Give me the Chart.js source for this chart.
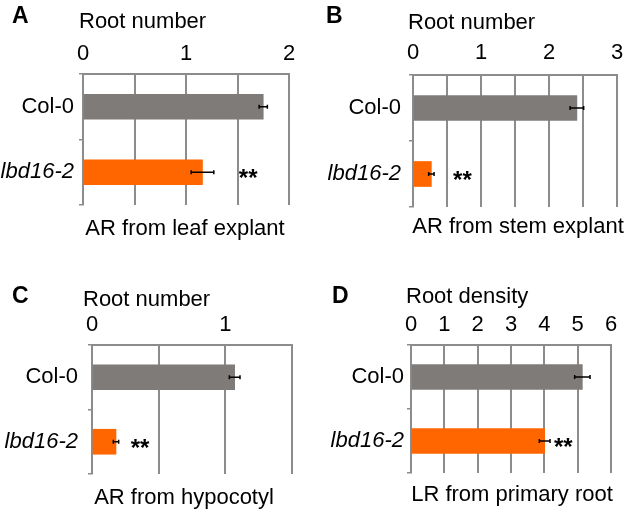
<!DOCTYPE html>
<html>
<head>
<meta charset="utf-8">
<script src="https://cdn.jsdelivr.net/npm/chart.js@4.4.0/dist/chart.umd.min.js"></script>
<style>
  html, body { margin: 0; padding: 0; background: #fff; }
  #wrap { position: relative; width: 628px; height: 512px; }
  canvas { position: absolute; }
</style>
</head>
<body>
<div id="wrap">
  <canvas id="panelA" width="314" height="256" style="left:0;top:0"></canvas>
  <canvas id="panelB" width="314" height="256" style="left:314px;top:0"></canvas>
  <canvas id="panelC" width="314" height="256" style="left:0;top:256px"></canvas>
  <canvas id="panelD" width="314" height="256" style="left:314px;top:256px"></canvas>
</div>
<script>
// ===============================================
// Data
// ===============================================
const genotypes = ['Col-0', 'lbd16-2'];
const italicGenotypes = ['lbd16-2'];
const significance = ['', '**'];

const leafMeans = [1.75, 1.16];
const leafErrors = [0.04, 0.11];
const leafTicks = [0, 1, 2];

const stemMeans = [2.41, 0.27];
const stemErrors = [0.10, 0.04];
const stemTicks = [0, 1, 2, 3];

const hypocotylMeans = [1.07, 0.18];
const hypocotylErrors = [0.04, 0.02];
const hypocotylTicks = [0, 1];

const primaryMeans = [5.14, 4.01];
const primaryErrors = [0.23, 0.16];
const primaryTicks = [0, 1, 2, 3, 4, 5, 6];

// ===============================================
// Styles
// ===============================================
const FONT = "'Liberation Sans', Arial, sans-serif";
const SIZE = 22;
const GRID = '#8c8c8c';
const BAR_COLORS = ['#7f7b78', '#ff6600'];

function makePanel(cfg) {
    const W = 314, H = 256;
    const p = cfg.plot;

    // error bars, asterisks, panel letter, titles
    const panelText = {
        id: 'panelText',
        afterDatasetsDraw(chart) {
            const ctx = chart.ctx;
            const x = chart.scales.x;
            const meta = chart.getDatasetMeta(0);
            ctx.save();
            ctx.strokeStyle = '#000';
            ctx.lineWidth = 1.5;
            meta.data.forEach((bar, i) => {
                const lo = x.getPixelForValue(cfg.means[i] - cfg.errors[i]);
                const hi = x.getPixelForValue(cfg.means[i] + cfg.errors[i]);
                ctx.beginPath();
                ctx.moveTo(lo, bar.y); ctx.lineTo(hi, bar.y);
                ctx.moveTo(lo, bar.y - 2); ctx.lineTo(lo, bar.y + 2);
                ctx.moveTo(hi, bar.y - 2); ctx.lineTo(hi, bar.y + 2);
                ctx.stroke();
                if (significance[i]) {
                    ctx.fillStyle = '#000';
                    ctx.font = 'bold 24px ' + FONT;
                    ctx.textAlign = 'left';
                    ctx.textBaseline = 'alphabetic';
                    ctx.fillText(significance[i], hi + cfg.starGap, bar.y + 14);
                }
            });
            ctx.restore();
        },
        afterDraw(chart) {
            const ctx = chart.ctx;
            ctx.save();
            ctx.fillStyle = '#000';
            ctx.textBaseline = 'alphabetic';
            ctx.textAlign = 'left';
            ctx.font = 'bold 23px ' + FONT;
            ctx.fillText(cfg.letter, cfg.letterPos[0], cfg.letterPos[1]);
            ctx.font = SIZE + 'px ' + FONT;
            ctx.fillText(cfg.title, cfg.titlePos[0], cfg.titlePos[1]);
            ctx.textAlign = 'center';
            ctx.fillText(cfg.caption, cfg.captionPos[0], cfg.captionPos[1]);
            ctx.restore();
        }
    };

    return new Chart(document.getElementById(cfg.id), {
        type: 'bar',
        data: {
            labels: genotypes,
            datasets: [{
                data: cfg.means,
                backgroundColor: BAR_COLORS,
                borderWidth: 0,
                barThickness: 25
            }]
        },
        options: {
            indexAxis: 'y',
            responsive: false,
            animation: false,
            events: [],
            layout: {
                padding: { left: 0, top: 0, right: W - p.r, bottom: H - p.b }
            },
            plugins: {
                legend: { display: false },
                tooltip: { enabled: false }
            },
            scales: {
                x: {
                    position: 'top',
                    min: 0,
                    max: cfg.max,
                    afterFit(s) { s.height = p.t; s.paddingLeft = 0; s.paddingRight = 0; },
                    ticks: {
                        stepSize: cfg.step,
                        autoSkip: false,
                        maxRotation: 0,
                        padding: cfg.tickPad,
                        color: '#000',
                        font: { family: FONT, size: SIZE },
                        callback: v => cfg.ticks.includes(v) ? String(v) : ''
                    },
                    grid: { color: GRID, lineWidth: 2, drawTicks: false },
                    border: { color: GRID, width: 2 }
                },
                y: {
                    afterFit(s) { s.width = p.l; s.paddingTop = 0; s.paddingBottom = 0; },
                    ticks: {
                        padding: cfg.labelPad,
                        color: '#000',
                        font: c => ({
                            family: FONT,
                            size: SIZE,
                            style: italicGenotypes.includes(genotypes[c.index]) ? 'italic' : 'normal'
                        })
                    },
                    grid: {
                        offset: true,
                        drawOnChartArea: false,
                        tickLength: 4,
                        color: GRID,
                        lineWidth: 1.5
                    },
                    border: { color: GRID, width: 2 }
                }
            }
        },
        plugins: [panelText]
    });
}

// ===============================================
// Panels
// ===============================================
makePanel({
    id: 'panelA', letter: 'A', title: 'Root number', caption: 'AR from leaf explant',
    means: leafMeans, errors: leafErrors, ticks: leafTicks, max: 2, step: 0.5,
    plot: { l: 83, r: 289, t: 74, b: 205 },
    tickPad: 7, labelPad: 5, starGap: 25,
    letterPos: [12, 23], titlePos: [79, 28], captionPos: [185, 235]
});

makePanel({
    id: 'panelB', letter: 'B', title: 'Root number', caption: 'AR from stem explant',
    means: stemMeans, errors: stemErrors, ticks: stemTicks, max: 3, step: 0.5,
    plot: { l: 99, r: 303, t: 75, b: 207 },
    tickPad: 9, labelPad: 8, starGap: 19,
    letterPos: [12, 23], titlePos: [94, 29], captionPos: [204, 233]
});

makePanel({
    id: 'panelC', letter: 'C', title: 'Root number', caption: 'AR from hypocotyl',
    means: hypocotylMeans, errors: hypocotylErrors, ticks: hypocotylTicks, max: 1.5, step: 0.5,
    plot: { l: 92, r: 292, t: 89, b: 218 },
    tickPad: 7, labelPad: 10, starGap: 12,
    letterPos: [12, 47], titlePos: [83, 50], captionPos: [184, 248]
});

makePanel({
    id: 'panelD', letter: 'D', title: 'Root density', caption: 'LR from primary root',
    means: primaryMeans, errors: primaryErrors, ticks: primaryTicks, max: 6, step: 1,
    plot: { l: 97, r: 297, t: 89, b: 217 },
    tickPad: 7, labelPad: 3, starGap: 4,
    letterPos: [18, 47], titlePos: [92, 47], captionPos: [198, 245]
});
</script>
</body>
</html>
